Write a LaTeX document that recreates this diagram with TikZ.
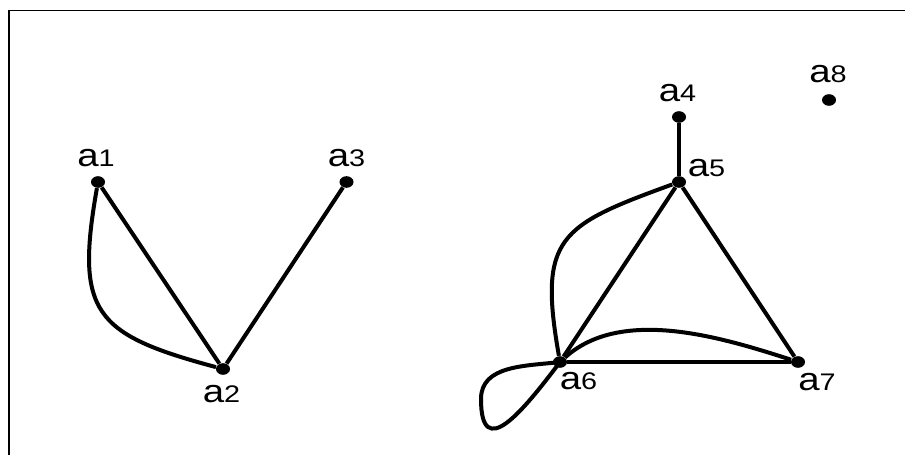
\documentclass[tikz,border=0pt]{standalone}
\usepackage{fontspec}
\usepackage{graphicx}
\setmainfont{Liberation Sans}
\usetikzlibrary{shapes.geometric}
\tikzset{
  every picture/.style={x=0.5pt, y=0.5pt},
  vtx/.style={ellipse, fill, inner sep=0pt, minimum width=7pt, minimum height=5.8pt},
  lbl/.style={inner sep=0pt, anchor=base, font=\fontsize{16}{16}\selectfont},
  edge/.style={line width=2pt},
}
\newcommand{\va}[1]{\scalebox{1.2}[1]{a{\fontsize{12}{12}\selectfont #1}}}

\begin{document}
\begin{tikzpicture}
  \useasboundingbox (0,0) rectangle (905,455);
  % frame, only top and left edges show
  \draw[line width=0.8pt] (9,0) -- (9,444.5) -- (905,444.5);
  % vertices
  \node[vtx] (a1) at (98,273) {};
  \node[vtx] (a2) at (223,86) {};
  \node[vtx] (a3) at (346.5,273) {};
  \node[vtx] (a4) at (679,338) {};
  \node[vtx] (a5) at (679,273) {};
  \node[vtx] (a6) at (560,93) {};
  \node[vtx] (a7) at (798,93) {};
  \node[vtx] (a8) at (829,355) {};
  \coordinate (lp) at (481,56); % turning point of the loop at a6
  % vertex names
  \node[lbl] (l1) at ([shift={(-1pt,7.5pt)}]a1) {\va1};
  \node[lbl] (l2) at ([shift={(-0.75pt,-17pt)}]a2) {\va2};
  \node[lbl] (l3) at ([shift={(0pt,7.5pt)}]a3) {\va3};
  \node[lbl] (l4) at ([shift={(-0.75pt,7.5pt)}]a4) {\va4};
  \node[lbl] (l5) at ([shift={(13.75pt,2.5pt)}]a5) {\va5};
  \node[lbl] (l6) at ([shift={(9.25pt,-14pt)}]a6) {\va6};
  \node[lbl] (l7) at ([shift={(9.5pt,-14.5pt)}]a7) {\va7};
  \node[lbl] (l8) at ([shift={(-0.5pt,8.5pt)}]a8) {\va8};
  % edges
  \draw[edge] (a1) -- (a2);
  \draw[edge] (a2) -- (a3);
  \draw[edge] (a1) to[out=-100, in=165, looseness=1.5] (a2);
  \draw[edge] (a4) -- (a5);
  \draw[edge] (a5) -- (a6);
  \draw[edge] (a5) -- (a7);
  \draw[edge] (a6) -- (a7);
  \draw[edge] (a6) to[out=100, in=200, looseness=1.5] (a5);
  \draw[edge] (a6) to[out=42, in=162, looseness=0.85] (a7);
  \draw[edge] (a6.center) to[out=187, in=90] (lp)
    to[out=-90, in=233, looseness=1.85] (a6.center);
\end{tikzpicture}
\end{document}
